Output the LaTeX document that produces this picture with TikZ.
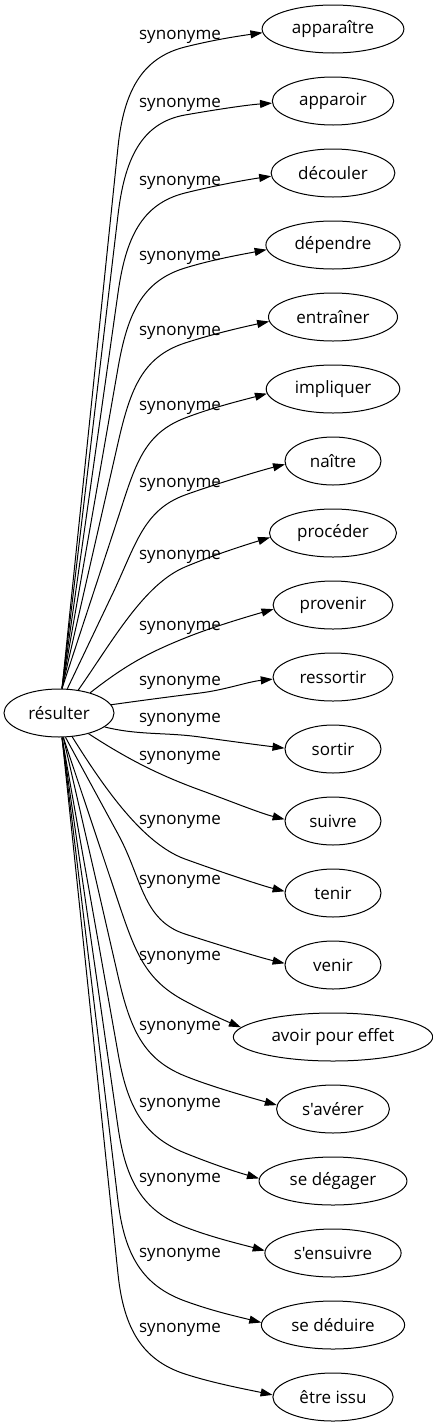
\documentclass[tikz,border=0pt]{standalone}
\usepackage{fontspec}
\newfontfamily\gvfont{Open Sans}[Ligatures=TeXOff]
\usetikzlibrary{shapes.geometric,arrows.meta}
\begin{document}
\begin{tikzpicture}[x=1pt,y=1pt,
  every node/.style={font=\gvfont\fontsize{17pt}{20pt}\selectfont},
  tnode/.style={draw, ellipse, line width=1pt, inner xsep=9pt, inner ysep=2pt, minimum width=96pt, minimum height=48pt},
  lab/.style={inner sep=0pt},
  edge/.style={line width=1pt, line join=round, -{Triangle[length=12pt,width=8pt]}}]
\useasboundingbox (0,0) rectangle (433,-1427);
\node[tnode, minimum width=110pt, inner xsep=6pt] (res) at (59,-713) {résulter};
\foreach \i/\txt/\T/\L/\aA/\Bx/\By/\aO/\dA/\Cx/\Cy/\aB/\dB/\dC/\aE/\aIn/\dD in {
1/apparaître/29/37/83/118/147/84.1/55/185/47/14/45/30/183/188/25,
2/apparoir/101/105/83/118/215/83.3/55/185/115/10/45/30/182/184/25,
3/découler/173/183/83/118/293/82.0/55/185/193/14/45/30/183/188/25,
4/dépendre/245/258/83/118/368/80.1/55/185/268/17/45/30/184/191/25,
5/entraîner/317/333/83/118/443/77.2/55/185/343/18/45/30/184/192/25,
6/impliquer/389/408/83/118/518/71.9/55/185/418/21/45/30/184/195/25,
7/naître/461/485/71/112/595/64.4/55/185/495/20/45/30/184/194/25,
8/procéder/533/557/50/999/0/55/60/185/567/23/45/30/184/197/25,
9/provenir/605/628/33/999/0/38/45/185/638/22/40/30/184/196/25,
10/ressortir/677/683/9/999/0/8/30/200/693/7/30/25/182/186/25,
11/sortir/749/720/343/999/0/-14/35/200/737/-8/35/30/179/173/25,
12/suivre/821/758/325/999/0/-33/45/200/790/-20/45/30/178/166/25,
13/tenir/893/822/299/999/0/-58/60/185/859/-20/45/30/178/166/25,
14/venir/965/882/285/118/834/-61.3/50/185/934/-18/45/30/178/167/25,
15/avoir pour effet/1037/958/280/118/901/-71.5/55/185/1001/-28/45/25/174/157/20,
16/s'avérer/1109/1028/280/118/976/-77/55/185/1076/-22/45/30/176/164/25,
17/se dégager/1181/1105/277/118/1053/-80/55/185/1153/-22/45/30/178/164/25,
18/s'ensuivre/1253/1180/277/118/1127/-81.8/55/185/1227/-21/45/30/178/165/25,
19/se déduire/1325/1255/277/118/1201/-83.1/55/185/1301/-20/45/30/178/166/25,
20/être issu/1397/1330/277/118/1274/-84.0/55/185/1374/-18/45/30/178/168/25}
{
  \node[tnode] (t\i) at (333,-\T) {\txt};
  \node[lab] (l\i) at (180,-\L) {synonyme};
  \ifnum\Bx=999 \coordinate (b\i) at (res.\aA); \else \coordinate (b\i) at (\Bx,-\By); \fi
  \coordinate (c\i) at (\Cx,-\Cy);
  \pgfmathsetmacro\inB{180+\aB}
  \draw[edge] (res.\aA) -- (b\i)
     to[out=\aO, in=\inB, out distance=\dA pt, in distance=\dB pt] (c\i)
     to[out=\aB, in=\aIn, out distance=\dC pt, in distance=\dD pt] (t\i.\aE);
}
\end{tikzpicture}
\end{document}
